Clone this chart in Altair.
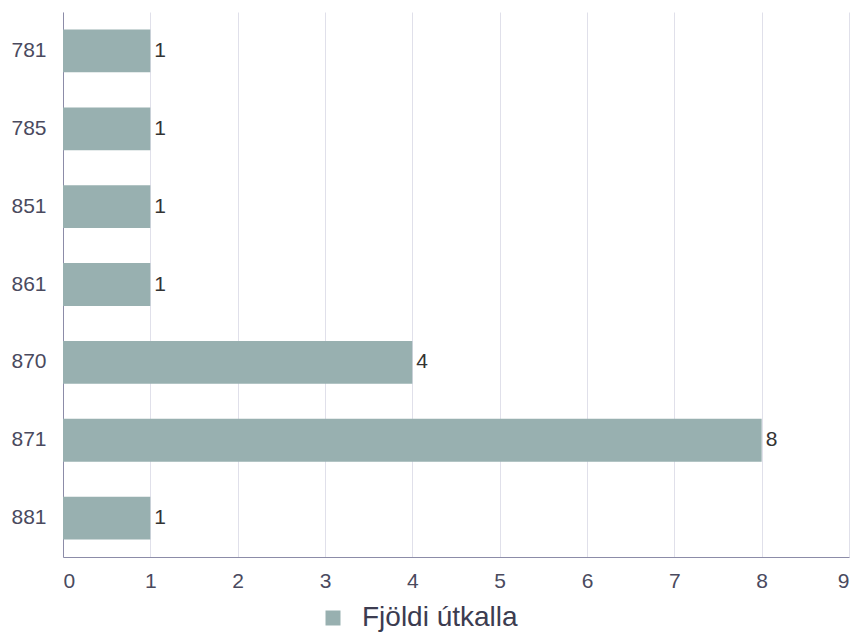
import altair as alt
import pandas as pd

categories = ["781", "785", "851", "861", "870", "871", "881"]
values = [1, 1, 1, 1, 4, 8, 1]
series_name = "Fjöldi útkalla"
x_ticks = [0, 1, 2, 3, 4, 5, 6, 7, 8, 9]

df = pd.DataFrame({"cat": categories, "val": values, "series": [series_name] * len(categories)})

FONT = "Liberation Sans"

y_axis = alt.Axis(title=None, ticks=False, grid=False, domainColor="#8c8ca8",
                  labelFont=FONT, labelFontSize=21, labelColor="#4a4a5e",
                  labelPadding=17)
x_axis = alt.Axis(title=None, ticks=False, values=x_ticks, labelOverlap=False,
                  grid=True, gridColor="#e0e0ea", domainColor="#8c8ca8",
                  labelFont=FONT, labelFontSize=21, labelColor="#4a4a5e",
                  labelPadding=13)
y_enc = alt.Y("cat:N", sort=categories,
              scale=alt.Scale(paddingInner=0.45, paddingOuter=0.225), axis=y_axis)
x_enc = alt.X("val:Q", scale=alt.Scale(domain=[0, 9], nice=False), axis=x_axis)

base = alt.Chart(df)

bars = base.mark_bar().encode(
    y=y_enc,
    x=x_enc,
    fill=alt.Fill("series:N", scale=alt.Scale(range=["#98b0b0"]),
                  legend=alt.Legend(title=None, orient="none", legendX=256, legendY=592,
                                    symbolType="square", symbolSize=225, symbolStrokeWidth=0,
                                    labelFont=FONT, labelFontSize=28, labelColor="#3c3c50",
                                    labelOffset=15)),
)

labels = base.mark_text(align="left", baseline="middle", dx=4, font=FONT, fontSize=21,
                        color="#333333").encode(
    y=y_enc,
    x=x_enc,
    text=alt.Text("val:Q"),
)

chart = (bars + labels).properties(
    width=786, height=545,
    autosize=alt.AutoSizeParams(type="none"),
    padding={"left": 55, "top": 4, "right": 6, "bottom": 76},
).configure_view(stroke=None)

chart.save("out.html", embed_options={"renderer": "svg", "actions": False})
